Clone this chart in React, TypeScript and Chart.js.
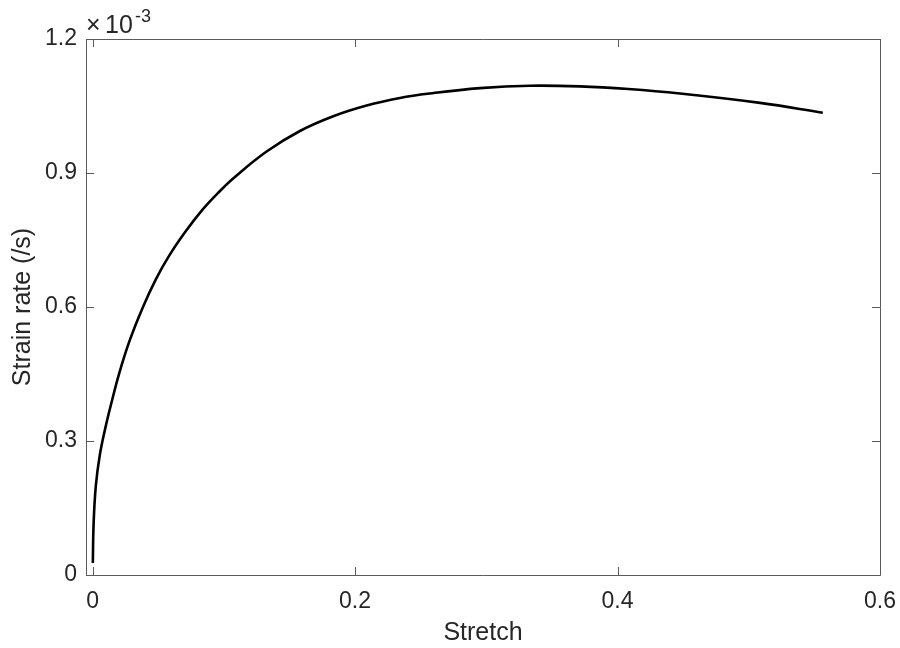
import React, { useEffect, useRef } from "react";
import { Chart, registerables } from "chart.js";

Chart.register(...registerables);

// Stretch (dimensionless) and strain rate in units of 1e-3 /s
const stretch = [
  0.0002, 0.0008, 0.0025, 0.0056, 0.0098, 0.0139, 0.0203, 0.0279, 0.0381,
  0.0482, 0.0584, 0.0711, 0.0838, 0.0965, 0.108, 0.1326, 0.158, 0.1834,
  0.2088, 0.2342, 0.257, 0.2952, 0.333, 0.3714, 0.4083, 0.4476, 0.5086,
  0.5564,
];
const strainRate = [
  0.027, 0.115, 0.2, 0.27, 0.33, 0.38, 0.4515, 0.522, 0.598, 0.662, 0.715,
  0.77, 0.818, 0.858, 0.89, 0.948, 0.994, 1.027, 1.051, 1.068, 1.078, 1.09,
  1.0955, 1.094, 1.088, 1.078, 1.057, 1.035,
];

const xTicks = [0, 0.2, 0.4, 0.6];
const yTicks = [0, 0.3, 0.6, 0.9, 1.2];
const xLabel = "Stretch";
const yLabel = "Strain rate (/s)";
const yExponent = "-3";

const FONT = '"Liberation Sans", Arial, Helvetica, sans-serif';
const TEXT = "#262626";
const AXIS = "#5a5a5a";

// Box around the plot with inward tick marks on all four sides,
// plus the x10^-3 multiplier above the y axis.
const boxPlugin = {
  id: "matlabBox",
  afterDraw(chart: any) {
    const { ctx, chartArea } = chart;
    const { left, right, top, bottom } = chartArea;
    const xs = chart.scales.x;
    const ys = chart.scales.y;
    const tl = 8;
    ctx.save();
    ctx.strokeStyle = AXIS;
    ctx.lineWidth = 1;
    ctx.beginPath();
    ctx.rect(Math.round(left) + 0.5, Math.round(top) + 0.5, Math.round(right - left), Math.round(bottom - top));
    ctx.stroke();
    ctx.beginPath();
    for (const v of xTicks) {
      const px = Math.round(xs.getPixelForValue(v)) + 0.5;
      ctx.moveTo(px, bottom);
      ctx.lineTo(px, bottom - tl);
      ctx.moveTo(px, top);
      ctx.lineTo(px, top + tl);
    }
    for (const v of yTicks) {
      const py = Math.round(ys.getPixelForValue(v)) + 0.5;
      ctx.moveTo(left, py);
      ctx.lineTo(left + tl, py);
      ctx.moveTo(right, py);
      ctx.lineTo(right - tl, py);
    }
    ctx.stroke();

    ctx.fillStyle = TEXT;
    ctx.textBaseline = "alphabetic";
    ctx.textAlign = "left";
    ctx.font = `25px ${FONT}`;
    ctx.fillText("\u00d7", left + 0, top - 6);
    ctx.fillText("10", left + 19, top - 6);
    ctx.font = `18px ${FONT}`;
    ctx.fillText(yExponent, left + 49, top - 17);
    ctx.restore();
  },
};

export default function App() {
  const ref = useRef<HTMLCanvasElement | null>(null);

  useEffect(() => {
    if (!ref.current) return;
    const chart = new Chart(ref.current, {
      type: "line",
      data: {
        datasets: [
          {
            data: stretch.map((x, i) => ({ x, y: strainRate[i] })),
            borderColor: "#000000",
            borderWidth: 2.6,
            pointRadius: 0,
            fill: false,
            tension: 0.4,
          },
        ],
      },
      options: {
        animation: false,
        responsive: false,
        events: [],
        layout: { padding: { left: 0, top: 39, right: 20, bottom: 0 } },
        plugins: {
          legend: { display: false },
          tooltip: { enabled: false },
        },
        scales: {
          x: {
            type: "linear",
            min: -0.005,
            max: 0.6,
            grid: { display: false, drawTicks: false },
            border: { display: false },
            afterBuildTicks: (s: any) => {
              s.ticks = xTicks.map((v) => ({ value: v }));
            },
            afterFit: (s: any) => {
              s.height = 73;
              s.paddingLeft = 0;
              s.paddingRight = 0;
            },
            ticks: {
              color: TEXT,
              font: { family: FONT, size: 23 },
              padding: 13,
              maxRotation: 0,
              callback: (v: any) => String(Number(v)),
            },
            title: {
              display: true,
              text: xLabel,
              color: TEXT,
              font: { family: FONT, size: 25 },
              padding: { top: 0, bottom: 0 },
            },
          },
          y: {
            type: "linear",
            min: 0,
            max: 1.2,
            grid: { display: false, drawTicks: false },
            border: { display: false },
            afterBuildTicks: (s: any) => {
              s.ticks = yTicks.map((v) => ({ value: v }));
            },
            afterFit: (s: any) => {
              s.width = 86;
              s.paddingTop = 0;
              s.paddingBottom = 0;
            },
            ticks: {
              color: TEXT,
              font: { family: FONT, size: 23 },
              padding: 9,
              callback: (v: any) => String(Number(v)),
            },
            title: {
              display: true,
              text: yLabel,
              color: TEXT,
              font: { family: FONT, size: 25 },
              padding: { top: 8, bottom: 0 },
            },
          },
        },
      },
      plugins: [boxPlugin],
    } as any);
    return () => chart.destroy();
  }, []);

  return (
    <div style={{ position: "absolute", left: 0, top: 0, width: 900, height: 648, background: "#ffffff" }}>
      <canvas ref={ref} width={900} height={648} style={{ display: "block" }} />
    </div>
  );
}
